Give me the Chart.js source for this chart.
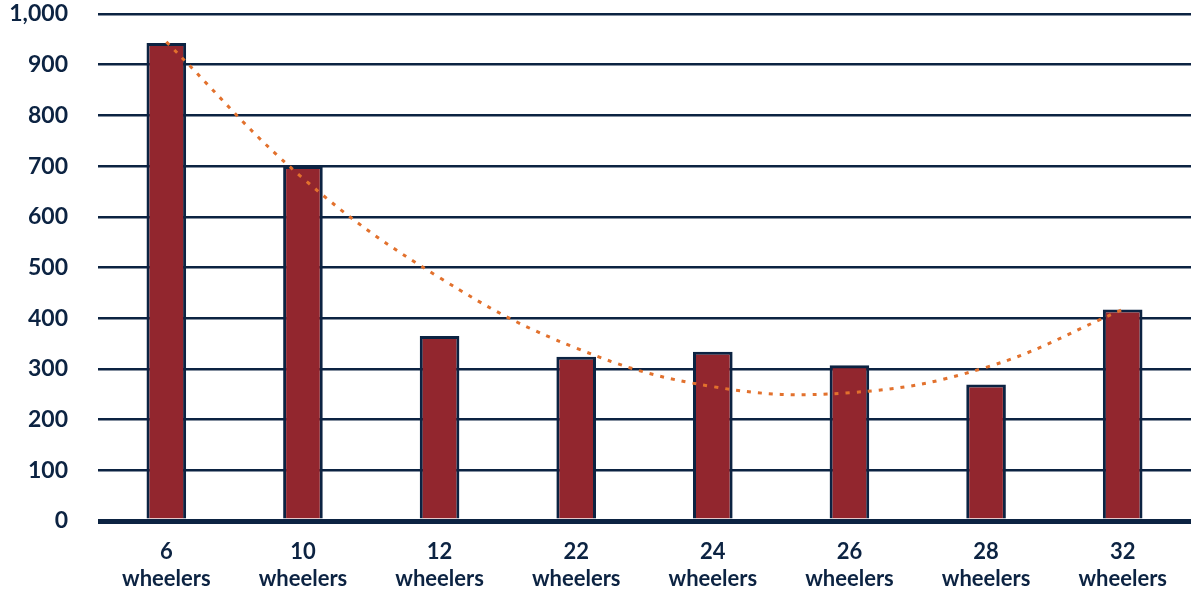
<!DOCTYPE html>
<html>
<head>
<meta charset="utf-8">
<title>Wheelers chart</title>
<script src="https://cdn.jsdelivr.net/npm/chart.js@4"></script>
<style>
    html, body { margin: 0; padding: 0; background: #ffffff; }
    #chart { display: block; }
</style>
</head>
<body>
<canvas id="chart" width="1195" height="593"></canvas>
<script>
// Chart data
const categories = [['6', 'wheelers'], ['10', 'wheelers'], ['12', 'wheelers'], ['22', 'wheelers'],
    ['24', 'wheelers'], ['26', 'wheelers'], ['28', 'wheelers'], ['32', 'wheelers']];
const values = [943, 700, 365, 324, 334, 307, 269, 417];
const trendValues = [945, 676, 480, 341, 265, 253, 303, 417];
const yTicks = [0, 100, 200, 300, 400, 500, 600, 700, 800, 900, 1000];

const NAVY = '#0c2342';
const RED = '#92262e';
const ORANGE = '#e2712d';

const ctx = document.getElementById('chart').getContext('2d');

new Chart(ctx, {
    type: 'bar',
    data: {
        labels: categories,
        datasets: [{
            type: 'line',
            label: 'Trend',
            data: trendValues,
            borderColor: ORANGE,
            borderWidth: 3,
            borderDash: [4, 7],
            borderCapStyle: 'butt',
            pointRadius: 0,
            fill: false,
            tension: 0.4,
            order: 0
        }, {
            label: 'Wheelers',
            data: values,
            backgroundColor: RED,
            borderColor: NAVY,
            borderWidth: 3,
            barPercentage: 0.29,
            categoryPercentage: 1,
            order: 1
        }]
    },
    options: {
        responsive: false,
        animation: false,
        layout: {
            padding: { top: 0, right: 4, left: 8, bottom: 0 }
        },
        plugins: {
            legend: { display: false },
            tooltip: { enabled: false }
        },
        scales: {
            x: {
                grid: { display: false },
                border: { display: false },
                ticks: {
                    color: NAVY,
                    padding: 10,
                    maxRotation: 0,
                    font: { family: 'Lato', weight: 'bold', size: 22, lineHeight: 1.2 }
                },
                afterFit: (s) => {
                    s.paddingLeft = 0;
                    s.paddingRight = 0;
                    s.height = 72;
                }
            },
            y: {
                min: 0,
                max: 1000,
                afterBuildTicks: (axis) => {
                    axis.ticks = yTicks.map(v => ({ value: v }));
                },
                afterFit: (s) => {
                    s.paddingTop = 14;
                    s.paddingBottom = 0;
                    s.width = 90;
                },
                border: { display: false },
                grid: {
                    color: NAVY,
                    drawTicks: false,
                    lineWidth: (c) => c.tick && c.tick.value === 0 ? 5 : 2.5
                },
                ticks: {
                    color: NAVY,
                    padding: 30,
                    font: { family: 'Lato', weight: 'bold', size: 23 },
                    callback: (v) => v.toLocaleString('en-US')
                }
            }
        }
    }
});
</script>
</body>
</html>
